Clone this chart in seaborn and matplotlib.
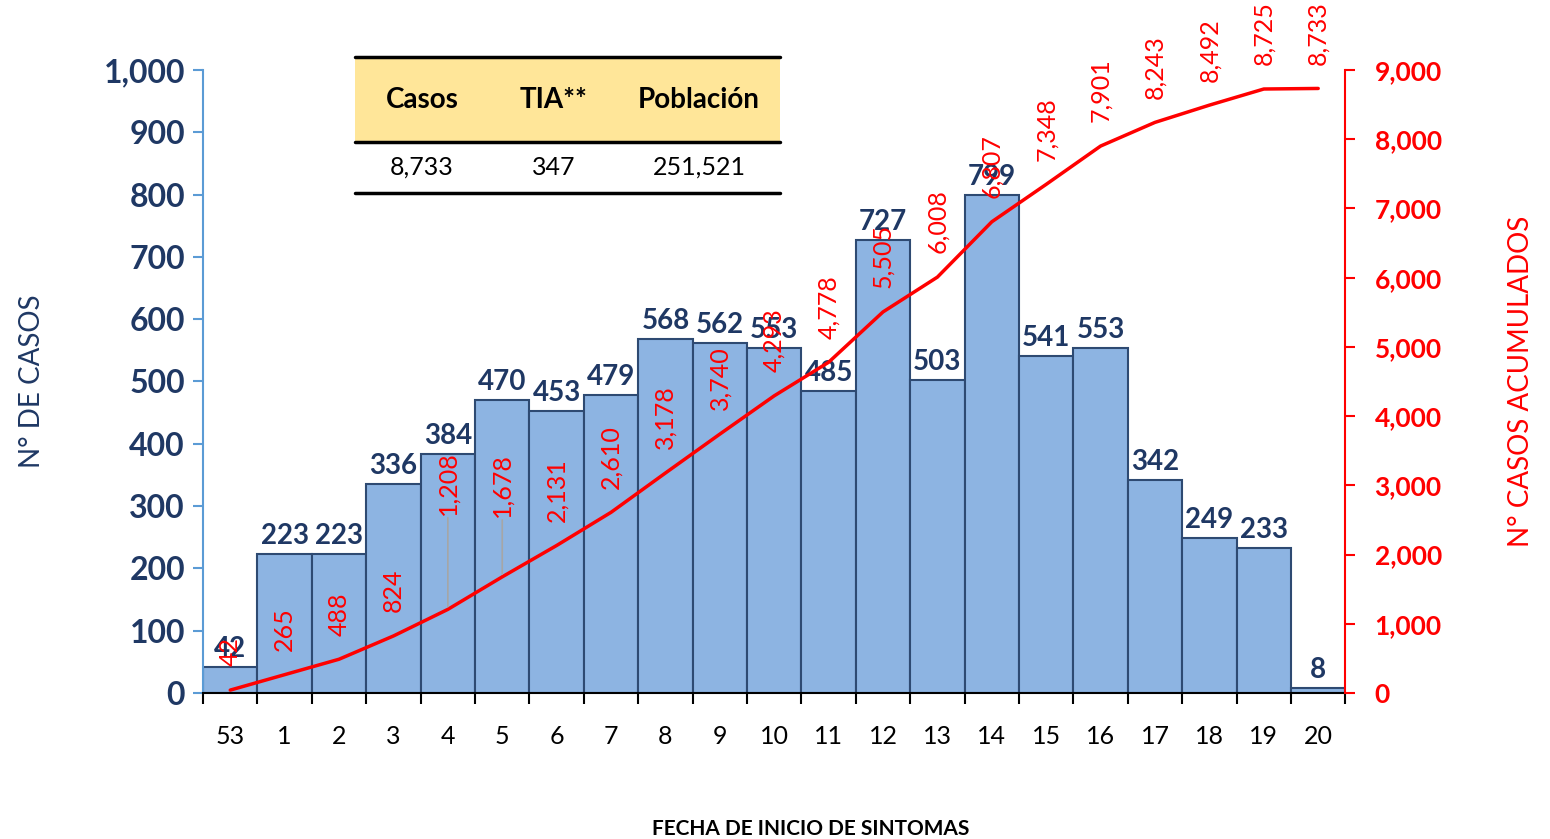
import matplotlib.pyplot as plt
import matplotlib.ticker as mticker
from matplotlib.patches import Rectangle
from matplotlib.lines import Line2D
import numpy as np
import pandas as pd
import seaborn as sns

# semana epidemiologica
weeks = ['53', '1', '2', '3', '4', '5', '6', '7', '8', '9', '10',
         '11', '12', '13', '14', '15', '16', '17', '18', '19', '20']
cases = [42, 223, 223, 336, 384, 470, 453, 479, 568, 562, 553,
         485, 727, 503, 799, 541, 553, 342, 249, 233, 8]
cumulative = [42, 265, 488, 824, 1208, 1678, 2131, 2610, 3178, 3740, 4293,
              4778, 5505, 6008, 6807, 7348, 7901, 8243, 8492, 8725, 8733]

table_cols = ['Casos', 'TIA**', 'Población']
table_vals = ['8,733', '347', '251,521']

NAVY = '#1F3864'
RED = '#FF0000'

sns.set_style('white')
plt.rcParams['font.family'] = ['Lato', 'DejaVu Sans']

df = pd.DataFrame({'week': weeks, 'cases': cases, 'cum': cumulative})
df['pos'] = np.arange(len(df))

fig = plt.figure(figsize=(15.5, 8.39), dpi=100)
ax = fig.add_axes([0.131, 0.174, 0.737, 0.7426])

sns.barplot(data=df, x='week', y='cases', order=weeks, color='#8DB4E2',
            saturation=1, width=1.0, edgecolor='#2E4A72', linewidth=1.5, ax=ax)
ax.set_xlim(-0.5, len(weeks) - 0.5)
ax.set_ylim(0, 1000)
ax.yaxis.set_major_locator(mticker.MultipleLocator(100))
ax.yaxis.set_major_formatter(mticker.StrMethodFormatter('{x:,.0f}'))

for p, v in zip(df['pos'], df['cases']):
    ax.text(p, v + 8, str(v), ha='center', va='bottom', fontsize=20,
            fontweight='bold', color=NAVY)

# x ticks at bar borders, labels at centres
ax.set_xticks(np.arange(len(weeks) + 1) - 0.5)
ax.set_xticklabels([])
ax.set_xticks(df['pos'], minor=True)
ax.set_xticklabels(weeks, minor=True)
ax.tick_params(axis='x', which='major', direction='out', length=8, width=1.5,
               color='black', bottom=True)
ax.tick_params(axis='x', which='minor', length=0, labelsize=18, pad=23,
               labelcolor='black')
ax.tick_params(axis='y', direction='out', length=7, width=1.5, color='#5B9BD5',
               labelsize=23, labelcolor=NAVY, left=True, pad=6)
for lab in ax.get_yticklabels():
    lab.set_fontweight('bold')

ax.set_xlabel('')
ax.set_ylabel('N° DE CASOS', fontsize=20, color=NAVY, labelpad=42)
for s in ['top', 'right']:
    ax.spines[s].set_visible(False)
ax.spines['left'].set_color('#5B9BD5')
ax.spines['left'].set_linewidth(1.5)
ax.spines['bottom'].set_color('black')
ax.spines['bottom'].set_linewidth(1.5)

# acumulados
ax2 = ax.twinx()
sns.lineplot(data=df, x='pos', y='cum', color=RED, linewidth=2.5, ax=ax2)
ax2.set_ylim(0, 9000)
ax2.set_xlim(-0.5, len(weeks) - 0.5)
ax2.yaxis.set_major_locator(mticker.MultipleLocator(1000))
ax2.yaxis.set_major_formatter(mticker.StrMethodFormatter('{x:,.0f}'))
ax2.tick_params(axis='y', direction='out', length=7, width=1.5, color=RED,
                labelsize=19, labelcolor=RED, right=True, pad=14)
for lab in ax2.get_yticklabels():
    lab.set_fontweight('bold')
ax2.set_ylabel('N° CASOS ACUMULADOS', fontsize=20, color=RED, labelpad=48)
ax2.set_xlabel('')
for s in ['top', 'left', 'bottom']:
    ax2.spines[s].set_visible(False)
ax2.spines['right'].set_color(RED)
ax2.spines['right'].set_linewidth(1.5)

# labels of weeks 4 and 5 are lifted with a leader line
lifted = {'4': 68, '5': 43}
for w, p, v in zip(df['week'], df['pos'], df['cum']):
    off = lifted.get(w, 17)
    ax2.annotate(f'{v:,}', (p, v), xytext=(0, off), textcoords='offset points',
                 rotation=90, ha='center', va='bottom', fontsize=18,
                 color=RED, annotation_clip=False)
    if w in lifted:
        ax2.annotate('', (p, v), xytext=(0, off), textcoords='offset points',
                     arrowprops=dict(arrowstyle='-', color='#A6A6A6', lw=1.2))

fig.text(0.523, 0.0, 'FECHA DE INICIO DE SINTOMAS', ha='center',
         va='bottom', fontsize=15, fontweight='bold', color='black')

# tabla resumen
x0, x1 = 355 / 1550, 780 / 1550
y_top, y_mid, y_bot = 1 - 57 / 839, 1 - 142 / 839, 1 - 193 / 839
fig.patches.append(Rectangle((x0, y_mid), x1 - x0, y_top - y_mid,
                             transform=fig.transFigure, facecolor='#FFE699',
                             edgecolor='none', zorder=5))
for yy in [y_top, y_mid, y_bot]:
    fig.lines.append(Line2D([x0, x1], [yy, yy], transform=fig.transFigure,
                            color='black', linewidth=2.5, zorder=6))
col_x = [422 / 1550, 554 / 1550, 699 / 1550]
for cx, head, val in zip(col_x, table_cols, table_vals):
    fig.text(cx, (y_top + y_mid) / 2, head, ha='center', va='center',
             fontsize=20, fontweight='bold', color='black', zorder=7)
    fig.text(cx, (y_mid + y_bot) / 2, val, ha='center', va='center',
             fontsize=18, color='black', zorder=7)

plt.savefig('out.png', dpi=100)
